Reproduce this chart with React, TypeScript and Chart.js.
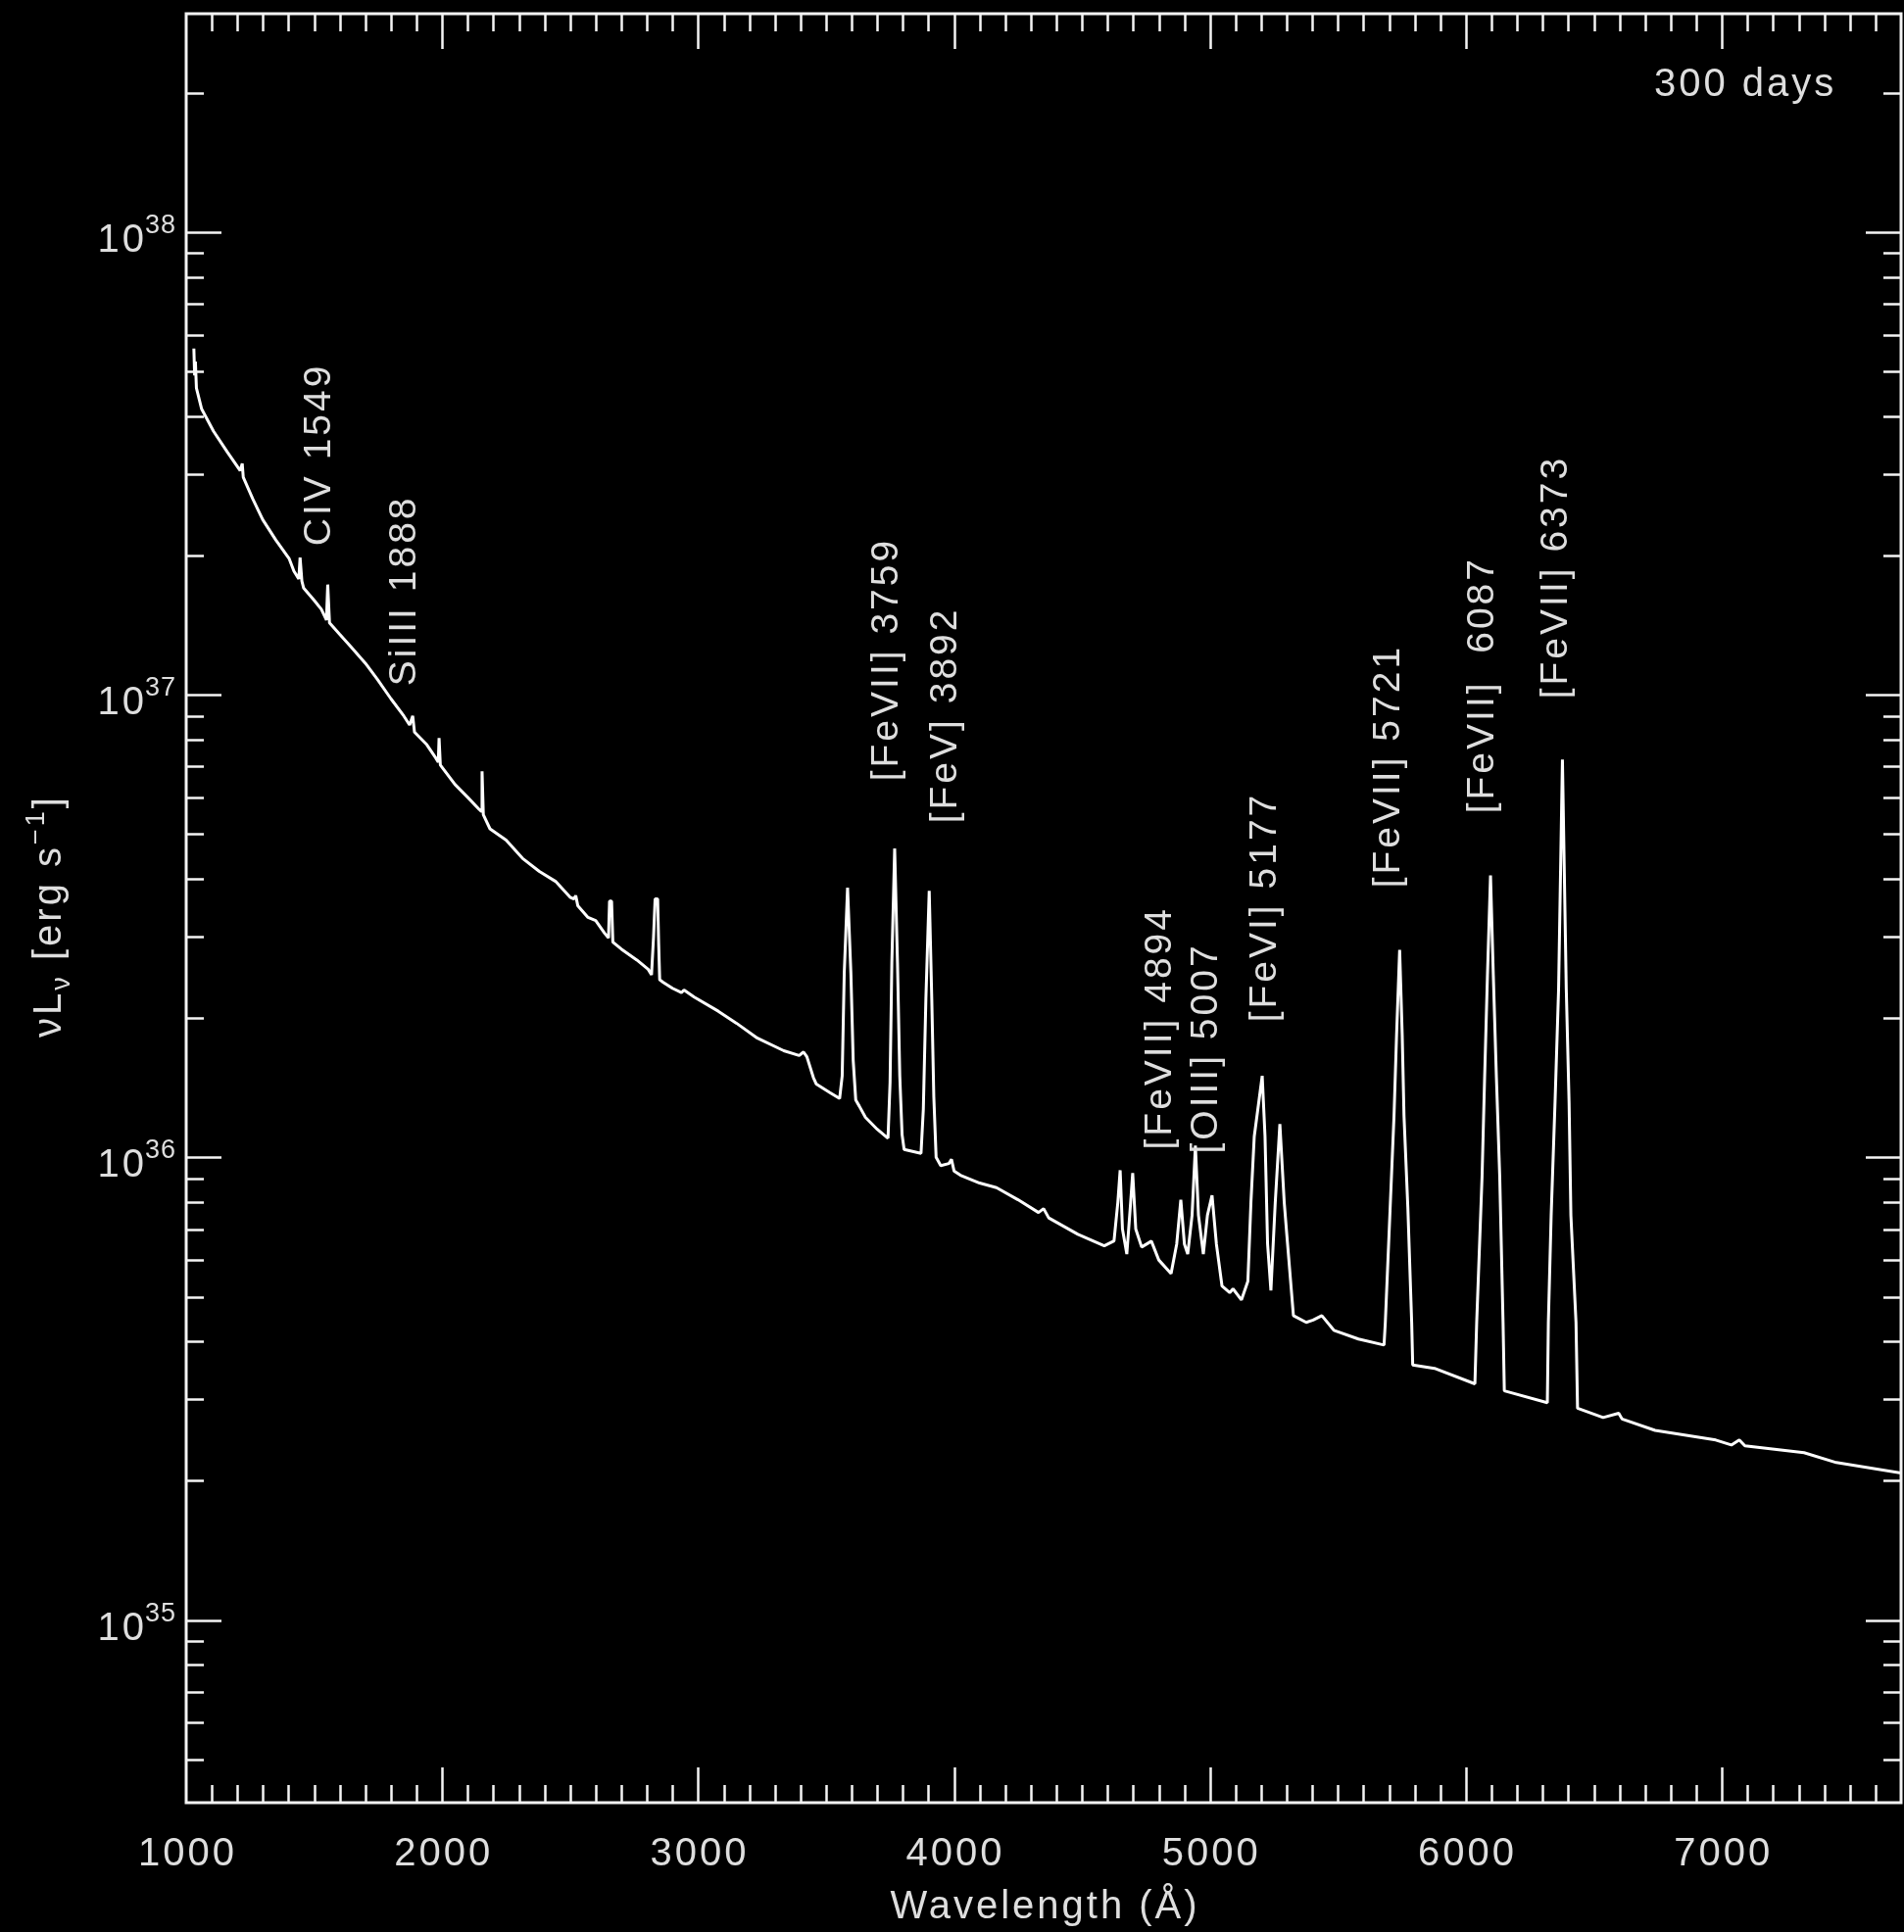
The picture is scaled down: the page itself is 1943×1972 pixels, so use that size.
import React, { useEffect, useRef } from 'react';
import { Chart, registerables } from 'chart.js';

Chart.register(...registerables);

// ---------- data (wavelength in Å, νLν in erg/s) ----------
const WAVELENGTH: number[] = [
  1030, 1033, 1036, 1040, 1060, 1107, 1160, 1211, 1219, 1223, 1260, 1299, 1350, 1402, 1421, 1440, 1445, 1452, 1459,
  1500, 1528, 1548, 1553, 1560, 1600, 1643, 1700, 1747, 1800, 1850, 1873, 1885, 1892, 1940, 1975, 1985, 1988, 1993,
  2050, 2100, 2145, 2153, 2156, 2161, 2187, 2250, 2314, 2380, 2443, 2500, 2515, 2522, 2530, 2570, 2600, 2635, 2650,
  2654, 2662, 2667, 2700, 2761, 2805, 2818, 2826, 2832, 2842, 2846, 2850, 2864, 2900, 2935, 2945, 2985, 3079, 3150,
  3232, 3335, 3395, 3412, 3425, 3450, 3462, 3515, 3553, 3563, 3571, 3584, 3597, 3606, 3616, 3630, 3654, 3700, 3742,
  3750, 3757, 3768, 3779, 3788, 3797, 3805, 3871, 3880, 3890, 3903, 3913, 3921, 3930, 3948, 3980, 3990, 4000, 4025,
  4100, 4166, 4250, 4330, 4350, 4370, 4484, 4587, 4625, 4640, 4649, 4658, 4675, 4690, 4698, 4710, 4733, 4771, 4800,
  4848, 4870, 4886, 4900, 4913, 4930, 4943, 4955, 4974, 4990, 5008, 5025, 5047, 5077, 5090, 5123, 5148, 5160, 5173,
  5204, 5215, 5225, 5238, 5255, 5273, 5290, 5300, 5326, 5376, 5403, 5437, 5484, 5580, 5680, 5685, 5704, 5719, 5729,
  5741, 5751, 5758, 5773, 5788, 5792, 5877, 6035, 6042, 6063, 6073, 6084, 6096, 6107, 6119, 6132, 6145, 6150, 6318,
  6322, 6333, 6348, 6362, 6377, 6392, 6403, 6410, 6430, 6436, 6536, 6597, 6610, 6739, 6976, 7037, 7068, 7090, 7321,
  7447, 7700,
];

const NU_L_NU: number[] = [
  5.6e37, 4.9e37, 5.25e37, 4.6e37, 4.15e37, 3.71e37, 3.35e37, 3.05e37, 3.16e37, 2.95e37, 2.65e37, 2.39e37, 2.16e37,
  1.97e37, 1.85e37, 1.78e37, 1.98e37, 1.76e37, 1.7e37, 1.6e37, 1.53e37, 1.45e37, 1.73e37, 1.43e37, 1.35e37, 1.27e37,
  1.17e37, 1.08e37, 9.8e36, 9.0e36, 8.6e36, 9.0e36, 8.3e36, 7.8e36, 7.3e36, 7.15e36, 8.06e36, 7.05e36, 6.4e36, 6.0e36,
  5.65e36, 5.6e36, 6.83e36, 5.5e36, 5.13e36, 4.85e36, 4.43e36, 4.15e36, 3.95e36, 3.65e36, 3.62e36, 3.68e36, 3.5e36,
  3.3e36, 3.25e36, 3.05e36, 2.98e36, 3.58e36, 3.58e36, 2.92e36, 2.82e36, 2.67e36, 2.55e36, 2.48e36, 3.0e36, 3.62e36,
  3.62e36, 2.9e36, 2.42e36, 2.39e36, 2.32e36, 2.27e36, 2.3e36, 2.22e36, 2.07e36, 1.95e36, 1.81e36, 1.7e36, 1.66e36,
  1.69e36, 1.65e36, 1.49e36, 1.44e36, 1.38e36, 1.34e36, 1.5e36, 2.5e36, 3.83e36, 2.5e36, 1.62e36, 1.33e36, 1.29e36,
  1.22e36, 1.15e36, 1.1e36, 1.45e36, 2.64e36, 4.65e36, 2.64e36, 1.5e36, 1.12e36, 1.04e36, 1.02e36, 1.27e36, 2.2e36,
  3.77e36, 2.2e36, 1.35e36, 1.0e36, 9.6e35, 9.7e35, 9.9e35, 9.35e35, 9.15e35, 8.8e35, 8.6e35, 8.1e35, 7.6e35,
  7.75e35, 7.4e35, 6.82e35, 6.44e35, 6.6e35, 8.0e35, 9.38e35, 7.0e35, 6.18e35, 8.0e35, 9.25e35, 7.0e35, 6.4e35,
  6.59e35, 6.0e35, 5.61e35, 6.5e35, 8.1e35, 6.5e35, 6.18e35, 7.5e35, 1.06e36, 7.5e35, 6.18e35, 7.5e35, 8.28e35,
  6.5e35, 5.27e35, 5.1e35, 5.2e35, 4.92e35, 5.4e35, 8.0e35, 1.11e36, 1.5e36, 1.11e36, 6.5e35, 5.16e35, 8.0e35,
  1.18e36, 8.0e35, 6.82e35, 4.55e35, 4.4e35, 4.45e35, 4.55e35, 4.23e35, 4.05e35, 3.93e35, 4.4e35, 7.8e35, 1.23e36,
  1.84e36, 2.81e36, 1.84e36, 1.23e36, 7.8e35, 4.4e35, 3.56e35, 3.5e35, 3.24e35, 4.4e35, 9.1e35, 1.49e36, 2.47e36,
  4.07e36, 2.47e36, 1.49e36, 9.1e35, 4.4e35, 3.13e35, 2.95e35, 4.4e35, 7.5e35, 1.31e36, 2.31e36, 7.24e36, 2.31e36,
  1.31e36, 7.5e35, 4.4e35, 2.87e35, 2.74e35, 2.8e35, 2.72e35, 2.57e35, 2.45e35, 2.39e35, 2.45e35, 2.38e35, 2.3e35,
  2.19e35, 2.08e35,
];

const X_TICK_LABELS: number[] = [1000, 2000, 3000, 4000, 5000, 6000, 7000];
const Y_TICK_EXPONENTS: number[] = [35, 36, 37, 38];

const LINE_LABELS: string[] = [
  'CIV 1549',
  'SiIII 1888',
  '[FeVII] 3759',
  '[FeV] 3892',
  '[FeVII] 4894',
  '[OIII] 5007',
  '[FeVI] 5177',
  '[FeVII] 5721',
  '[FeVII]  6087',
  '[FeVII] 6373',
];

// anchor of each rotated label (start of text) in data coordinates
const LABEL_ANCHOR_X: number[] = [1509, 1842, 3726, 3956, 4794, 4974, 5204, 5686, 6054, 6341];
const LABEL_ANCHOR_Y: number[] = [2.097e37, 1.044e37, 6.505e36, 5.274e36, 1.039e36, 1.019e36, 1.96e36, 3.822e36, 5.538e36, 9.797e36];

const EPOCH_LABEL = '300 days';
const X_TITLE = 'Wavelength (Å)';

// ---------- style ----------
const FONT_FAMILY = '"Liberation Sans", Arial, sans-serif';
const TEXT_COLOR = '#dedede';
const AXIS_COLOR = '#f4f4f4';
const X_MIN = 1000;
const X_MAX = 7700;
const Y_MIN = 4.03e34;
const Y_MAX = 2.964e38;

function spacedWidth(ctx: CanvasRenderingContext2D, text: string, spacing: number) {
  return ctx.measureText(text).width - spacing;
}

const decorPlugin = {
  id: 'decor',
  beforeDraw(chart: any) {
    const ctx: CanvasRenderingContext2D = chart.ctx;
    ctx.save();
    ctx.fillStyle = '#000';
    ctx.fillRect(0, 0, chart.width, chart.height);
    ctx.restore();
  },
  afterDatasetsDraw(chart: any) {
    const ctx: CanvasRenderingContext2D = chart.ctx;
    const { left, right, top, bottom } = chart.chartArea;
    const xs = chart.scales.x;
    const ys = chart.scales.y;
    ctx.save();
    (ctx as any).letterSpacing = '0px';

    // frame
    ctx.strokeStyle = AXIS_COLOR;
    ctx.lineWidth = 3;
    ctx.strokeRect(left, top, right - left, bottom - top);

    // x ticks (inward, bottom and top)
    ctx.lineWidth = 2.5;
    ctx.beginPath();
    for (let v = X_MIN + 100; v < X_MAX; v += 100) {
      const px = Math.round(xs.getPixelForValue(v)) + 0.5;
      const len = v % 1000 === 0 ? 36 : 18;
      ctx.moveTo(px, bottom);
      ctx.lineTo(px, bottom - len);
      ctx.moveTo(px, top);
      ctx.lineTo(px, top + len);
    }
    // y ticks (inward, left and right)
    for (let e = 34; e <= 38; e++) {
      for (let k = 1; k <= 9; k++) {
        const v = k * Math.pow(10, e);
        if (v <= Y_MIN || v >= Y_MAX) continue;
        const py = Math.round(ys.getPixelForValue(v)) + 0.5;
        const len = k === 1 ? 36 : 18;
        ctx.moveTo(left, py);
        ctx.lineTo(left + len, py);
        ctx.moveTo(right, py);
        ctx.lineTo(right - len, py);
      }
    }
    ctx.stroke();

    ctx.fillStyle = TEXT_COLOR;
    const sp = 3;
    (ctx as any).letterSpacing = sp + 'px';
    ctx.textBaseline = 'alphabetic';
    ctx.textAlign = 'left';

    // x tick labels
    ctx.font = `40px ${FONT_FAMILY}`;
    for (const v of X_TICK_LABELS) {
      const px = xs.getPixelForValue(v);
      const t = String(v);
      const w = spacedWidth(ctx, t, sp);
      ctx.fillText(t, px - w / 2, bottom + 64);
    }

    // x title
    {
      const w = spacedWidth(ctx, X_TITLE, sp);
      ctx.fillText(X_TITLE, (left + right) / 2 - w / 2, bottom + 118);
    }

    // y tick labels: 10^e
    for (const e of Y_TICK_EXPONENTS) {
      const py = ys.getPixelForValue(Math.pow(10, e));
      ctx.font = `40px ${FONT_FAMILY}`;
      const w = spacedWidth(ctx, '10', sp);
      ctx.fillText('10', left - 43 - w, py + 20);
      ctx.font = `27px ${FONT_FAMILY}`;
      (ctx as any).letterSpacing = '1px';
      ctx.fillText(String(e), left - 42, py + 1);
      (ctx as any).letterSpacing = sp + 'px';
    }

    // y title (rotated): νLν [erg s^-1]
    {
      const parts = [
        { t: 'ν', size: 40, dy: 0 },
        { t: 'L', size: 40, dy: 0 },
        { t: 'ν', size: 27, dy: 9 },
        { t: ' [erg s', size: 40, dy: 0 },
        { t: '−1', size: 27, dy: -17 },
        { t: ']', size: 40, dy: 0 },
      ];
      let total = 0;
      const widths: number[] = [];
      for (const p of parts) {
        ctx.font = `${p.size}px ${FONT_FAMILY}`;
        const w = ctx.measureText(p.t).width;
        widths.push(w);
        total += w;
      }
      ctx.save();
      ctx.translate(48, 935);
      ctx.rotate(-Math.PI / 2);
      let cx = -total / 2;
      parts.forEach((p, i) => {
        ctx.font = `${p.size}px ${FONT_FAMILY}`;
        ctx.fillText(p.t, cx, 14 + p.dy);
        cx += widths[i];
      });
      ctx.restore();
    }

    // epoch label
    ctx.font = `40px ${FONT_FAMILY}`;
    ctx.fillText(EPOCH_LABEL, right - 252, top + 84);

    // line identifications (rotated)
    ctx.font = `39px ${FONT_FAMILY}`;
    LINE_LABELS.forEach((label, i) => {
      const px = xs.getPixelForValue(LABEL_ANCHOR_X[i]);
      const py = ys.getPixelForValue(LABEL_ANCHOR_Y[i]);
      ctx.save();
      ctx.translate(px, py);
      ctx.rotate(-Math.PI / 2);
      ctx.fillText(label, 0, 14);
      ctx.restore();
    });

    ctx.restore();
  },
};

export default function App() {
  const ref = useRef<HTMLCanvasElement>(null);
  useEffect(() => {
    document.body.style.margin = '0';
    document.body.style.background = '#000';
    const canvas = ref.current!;
    const points = WAVELENGTH.map((w, i) => ({ x: w, y: NU_L_NU[i] }));
    const chart = new Chart(canvas, {
      type: 'line',
      data: {
        datasets: [
          {
            data: points,
            borderColor: '#ffffff',
            borderWidth: 3,
            pointRadius: 0,
            tension: 0,
            fill: false,
            borderJoinStyle: 'bevel',
          },
        ],
      },
      options: {
        responsive: false,
        devicePixelRatio: 1,
        animation: false,
        events: [],
        layout: { padding: { top: 14, right: 3, left: 0, bottom: 0 } },
        plugins: { legend: { display: false }, tooltip: { enabled: false }, title: { display: false } },
        scales: {
          x: {
            type: 'linear',
            min: X_MIN,
            max: X_MAX,
            ticks: { display: false },
            grid: { display: false },
            border: { display: false },
            afterFit: (s: any) => {
              s.height = 132;
            },
          },
          y: {
            type: 'logarithmic',
            min: Y_MIN,
            max: Y_MAX,
            ticks: { display: false },
            grid: { display: false },
            border: { display: false },
            afterFit: (s: any) => {
              s.width = 190;
            },
          },
        },
      },
      plugins: [decorPlugin],
    } as any);
    return () => chart.destroy();
  }, []);
  return (
    <div style={{ position: 'absolute', left: 0, top: 0, width: 1943, height: 1972, background: '#000' }}>
      <canvas ref={ref} width={1943} height={1972} style={{ display: 'block', width: 1943, height: 1972 }} />
    </div>
  );
}
